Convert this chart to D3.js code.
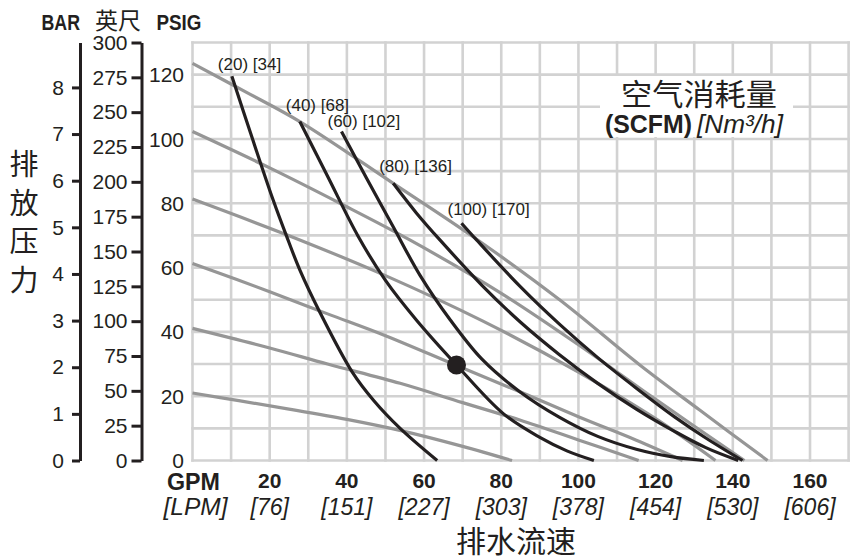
<!DOCTYPE html>
<html><head><meta charset="utf-8">
<script src="https://cdn.jsdelivr.net/npm/d3@7"></script>
<style>body{margin:0;background:#fff}svg{display:block}</style>
</head><body>
<svg id="c" width="850" height="560"></svg>
<script>
// ---------- data ----------
const gpmTicks = [20, 40, 60, 80, 100, 120, 140, 160];
const lpmTickLabels = ["[76]", "[151]", "[227]", "[303]", "[378]", "[454]", "[530]", "[606]"];
const psigTicks = [0, 20, 40, 60, 80, 100, 120];
const barTicks = [0, 1, 2, 3, 4, 5, 6, 7, 8];
const feetTicks = [0, 25, 50, 75, 100, 125, 150, 175, 200, 225, 250, 275, 300];

// air inlet pressure lines (gray): [GPM, PSIG]
const air20  = [[0,21],[12,18.6],[25,16],[40,12.8],[54,9.3],[70,4.4],[82.8,0]];
const air40  = [[0,41.1],[20,35],[35,30],[53.8,24],[70,18],[84.8,12.6],[100,6.4],[115.6,0]];
const air60  = [[0,61.3],[20,52.5],[35,45.6],[50,38.8],[68.3,29.6],[85,21.3],[100,13.6],[115,6.3],[127,0]];
const air80  = [[0,81.3],[27.8,68.6],[50,57.5],[75,43.5],[100,27.5],[120,13],[135.5,0]];
const air100 = [[0,102.3],[20,91],[38.2,80],[56.3,68.6],[80,52],[100,36],[120,19],[143,0]];
const air120 = [[0,123.5],[14,114.5],[27.8,105.4],[52,86.2],[72.7,69.6],[95.2,49.9],[115.9,29.7],[131.5,15.6],[149,0]];

// air consumption curves (black): [GPM, PSIG]
const scfm20  = [[10.2,119.5],[15,102],[20.9,81],[24.3,70],[27.8,59.3],[32.8,46.6],[41.4,27.5],[47,18.6],[53.8,10],[63.4,0]];
const scfm40  = [[27.8,105.4],[35,88.4],[42.8,70],[50,56],[58,43.7],[68.4,29.7],[80.6,14.5],[90,7.2],[97,3],[104,0]];
const scfm60  = [[38.6,102.3],[45,88],[52,72.7],[59,57.5],[66.8,43.7],[75,31.5],[84.8,21.4],[95,13.5],[105,7.5],[115,3.5],[124,1.2],[132.5,0]];
const scfm80  = [[52,86.2],[58,77],[64.1,68.6],[75,54.5],[85,43],[95,33],[105,24],[115,16],[125,9],[133,4],[141.4,0]];
const scfm100 = [[69.7,73.8],[73.6,68.6],[85,54],[95,42.5],[105,32],[115,22.5],[125,13.5],[133,7],[142.5,0]];
const scfmLabels = ["(20) [34]", "(40) [68]", "(60) [102]", "(80) [136]", "(100) [170]"];

const samplePoint = [68.4, 29.7];

// ---------- layout / style ----------
const FONT = "'Liberation Sans', Arial, Helvetica, sans-serif";
const NARROW = "'Liberation Sans Narrow', 'Arial Narrow', 'Liberation Sans', Arial, sans-serif";
const CJK = "'Noto Sans CJK SC', 'Noto Sans', sans-serif";
const INK = "#231f20", GRID = "#d2d2d2", GRAYLINE = "#969696";

const svg = d3.select("#c");
const x = d3.scaleLinear().domain([0, 170]).range([192.5, 848.6]);
const y = d3.scaleLinear().domain([0, 130]).range([460.5, 42.5]);
const barY = d3.scaleLinear().domain([0, 130 / 14.5038]).range([460.5, 42.5]);
const feetY = d3.scaleLinear().domain([0, 300]).range([460.5, 42.5]);

// grid
const grid = svg.append("g").attr("stroke", GRID).attr("stroke-width", 2.6);
grid.selectAll("line.v").data(d3.range(0, 171, 10)).join("line")
  .attr("x1", d => x(d)).attr("x2", d => x(d)).attr("y1", y(0)+1.3).attr("y2", y(130)-1.3);
grid.selectAll("line.h").data(d3.range(0, 131, 10)).join("line")
  .attr("y1", d => y(d)).attr("y2", d => y(d)).attr("x1", x(0)-1.3).attr("x2", x(170)+1.3);

// legend box (white behind text)
svg.append("rect").attr("x", 600).attr("y", 76).attr("width", 193).attr("height", 61).attr("fill", "#fff");
svg.append("text").attr("x", 699).attr("y", 105).attr("text-anchor", "middle")
  .attr("font-family", CJK).attr("font-size", 30).attr("fill", INK)
  .attr("textLength", 156).attr("lengthAdjust", "spacingAndGlyphs").text("空气消耗量");
svg.append("text").attr("x", 605).attr("y", 132.5).attr("font-family", NARROW).attr("font-weight", "bold")
  .attr("font-size", 26).attr("fill", INK).attr("textLength", 87).attr("lengthAdjust", "spacingAndGlyphs").text("(SCFM)");
svg.append("text").attr("x", 697).attr("y", 132.5).attr("font-family", FONT).attr("font-style", "italic")
  .attr("font-size", 25).attr("fill", INK).attr("textLength", 86).attr("lengthAdjust", "spacingAndGlyphs").text("[Nm³/h]");

// curves
const line = d3.line().x(d => x(d[0])).y(d => y(d[1])).curve(d3.curveCatmullRom.alpha(0.5));
const airSeries = [air20, air40, air60, air80, air100, air120];
const scfmSeries = [scfm20, scfm40, scfm60, scfm80, scfm100];
svg.append("g").selectAll("path").data(airSeries).join("path")
  .attr("d", line).attr("fill", "none").attr("stroke", GRAYLINE).attr("stroke-width", 3.2);
svg.append("g").selectAll("path").data(scfmSeries).join("path")
  .attr("d", line).attr("fill", "none").attr("stroke", INK).attr("stroke-width", 3.2);

// curve labels
const labelDy = [-6, -11, -5, -11, -8];
svg.append("g").selectAll("text").data(scfmSeries).join("text")
  .attr("x", d => x(d[0][0]) - 14).attr("y", (d, i) => y(d[0][1]) + labelDy[i])
  .attr("font-family", FONT).attr("font-size", 17).attr("fill", INK)
  .text((d, i) => scfmLabels[i]);

// sample point
svg.append("circle").attr("cx", x(samplePoint[0])).attr("cy", y(samplePoint[1])).attr("r", 9.5).attr("fill", INK);

// left axes
function styleAxis(g, fs) {
  g.attr("font-family", FONT).attr("font-size", fs);
  g.select(".domain").attr("stroke", INK).attr("stroke-width", 3);
  g.selectAll(".tick line").attr("stroke", INK).attr("stroke-width", 3);
  g.selectAll(".tick text").attr("fill", INK);
}
svg.append("g").attr("transform", "translate(80,0)")
  .call(d3.axisLeft(barY).tickValues(barTicks).tickSize(8).tickSizeOuter(0).tickPadding(8))
  .call(g => styleAxis(g, 21));
svg.append("g").attr("transform", "translate(141.5,0)")
  .call(d3.axisLeft(feetY).tickValues(feetTicks).tickSize(10).tickSizeOuter(0).tickPadding(4))
  .call(g => styleAxis(g, 21));
svg.append("g").selectAll("text").data(psigTicks).join("text")
  .attr("x", 184).attr("y", d => y(d)).attr("dy", "0.36em").attr("text-anchor", "end")
  .attr("font-family", FONT).attr("font-size", 21).attr("fill", INK).text(d => d);

// headers
svg.append("text").attr("x", 41.5).attr("y", 29.5).attr("font-family", NARROW).attr("font-weight", "bold")
  .attr("font-size", 22).attr("fill", INK).attr("textLength", 38.5).attr("lengthAdjust", "spacingAndGlyphs").text("BAR");
svg.append("text").attr("x", 95).attr("y", 28.5).attr("font-family", CJK)
  .attr("font-size", 23).attr("fill", INK).text("英尺");
svg.append("text").attr("x", 156.5).attr("y", 29.5).attr("font-family", NARROW).attr("font-weight", "bold")
  .attr("font-size", 22).attr("fill", INK).attr("textLength", 45).attr("lengthAdjust", "spacingAndGlyphs").text("PSIG");

// y title (vertical chars)
svg.append("g").selectAll("text").data(Array.from("排放压力")).join("text")
  .attr("x", 24).attr("y", (d, i) => 162 + i * 38.6).attr("text-anchor", "middle").attr("dominant-baseline", "central")
  .attr("font-family", CJK).attr("font-size", 29).attr("fill", INK).text(d => d);

// x axis labels
svg.append("g").selectAll("text").data(gpmTicks).join("text")
  .attr("x", d => x(d)).attr("y", 488).attr("text-anchor", "middle")
  .attr("font-family", FONT).attr("font-weight", "bold").attr("font-size", 21).attr("fill", INK).text(d => d);
svg.append("g").selectAll("text").data(gpmTicks).join("text")
  .attr("x", d => x(d)).attr("y", 515).attr("text-anchor", "middle")
  .attr("font-family", FONT).attr("font-style", "italic").attr("font-size", 23).attr("fill", INK)
  .text((d, i) => lpmTickLabels[i]);
svg.append("text").attr("x", 193.5).attr("y", 489.5).attr("text-anchor", "middle")
  .attr("font-family", FONT).attr("font-weight", "bold").attr("font-size", 23).attr("fill", INK)
  .attr("textLength", 53).attr("lengthAdjust", "spacingAndGlyphs").text("GPM");
svg.append("text").attr("x", 195.5).attr("y", 515).attr("text-anchor", "middle")
  .attr("font-family", FONT).attr("font-style", "italic").attr("font-size", 23).attr("fill", INK)
  .attr("textLength", 64).attr("lengthAdjust", "spacingAndGlyphs").text("[LPM]");
svg.append("text").attr("x", 516).attr("y", 552).attr("text-anchor", "middle")
  .attr("font-family", CJK).attr("font-size", 30).attr("fill", INK).text("排水流速");
</script>
</body></html>
